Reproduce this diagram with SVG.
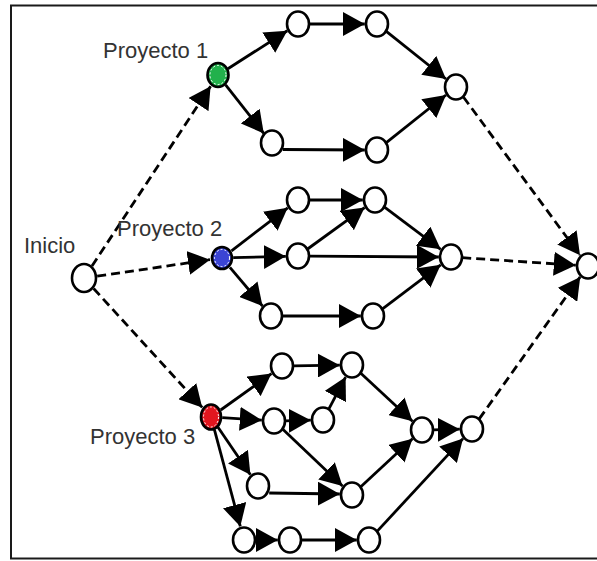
<svg xmlns="http://www.w3.org/2000/svg" width="597" height="561" viewBox="0 0 597 561">
  <style>
    .frame { fill: #ffffff; stroke: #1a1a1a; stroke-width: 2; }
    .node { fill: #ffffff; stroke: #000000; stroke-width: 2.6; }
    .ring { fill: none; stroke: #ffffff; stroke-width: 1; stroke-dasharray: 2 2; }
    .edge { fill: none; stroke: #000000; stroke-width: 2.8; marker-end: url(#arrow); }
    .dash { fill: none; stroke: #000000; stroke-width: 2.8; stroke-dasharray: 9 5; marker-end: url(#arrow); }
    .label { font-family: "Liberation Sans", Arial, sans-serif; font-size: 22px; fill: #333333; }
  </style>
  <defs>
    <marker id="arrow" markerUnits="userSpaceOnUse" markerWidth="22" markerHeight="24" refX="22" refY="12" orient="auto" viewBox="0 0 22 24">
      <path d="M0,0 L22,12 L0,24 Z" fill="#000000"/>
    </marker>
  </defs>

  <!-- outer frame -->
  <rect class="frame" x="11" y="5.5" width="600" height="553"/>

  <!-- connectors -->
  <g id="connectors">
    <!-- from start to the three projects -->
    <line class="dash" x1="92" y1="266" x2="210.6" y2="86.2"/>
    <line class="dash" x1="97.2" y1="276.1" x2="210" y2="259.7"/>
    <line class="dash" x1="93.6" y1="288.5" x2="202.2" y2="407.4"/>

    <!-- project 1 -->
    <line class="edge" x1="227.9" y1="68.7" x2="287.3" y2="30.8"/>
    <line class="edge" x1="225.6" y1="84.8" x2="263.8" y2="133.4"/>
    <line class="edge" x1="309.3" y1="24" x2="364.8" y2="24"/>
    <line class="edge" x1="282.8" y1="149.5" x2="364.8" y2="150"/>
    <line class="edge" x1="386.3" y1="31.4" x2="446" y2="79"/>
    <line class="edge" x1="386.3" y1="142.6" x2="446" y2="95"/>
    <line class="dash" x1="463.4" y1="97" x2="580" y2="255.2"/>

    <!-- project 2 -->
    <line class="edge" x1="231.5" y1="250.8" x2="287.7" y2="207.8"/>
    <line class="edge" x1="233.2" y1="257.7" x2="285.8" y2="256.3"/>
    <line class="edge" x1="229.9" y1="267.3" x2="262.5" y2="306"/>
    <line class="edge" x1="309.3" y1="200" x2="362.8" y2="200"/>
    <line class="edge" x1="307.6" y1="249" x2="364.6" y2="207.6"/>
    <line class="edge" x1="309.3" y1="256.1" x2="438.8" y2="257"/>
    <line class="edge" x1="384.5" y1="207.1" x2="440.7" y2="249.3"/>
    <line class="edge" x1="282.3" y1="316" x2="360.8" y2="316"/>
    <line class="edge" x1="382.5" y1="308.8" x2="440.7" y2="264.8"/>
    <line class="dash" x1="462.2" y1="257.7" x2="575.8" y2="265.2"/>

    <!-- project 3 -->
    <line class="edge" x1="220.7" y1="410" x2="271.5" y2="373.6"/>
    <line class="edge" x1="222.2" y1="417.7" x2="261.8" y2="420.2"/>
    <line class="edge" x1="218" y1="427.3" x2="250.4" y2="474.8"/>
    <line class="edge" x1="214.4" y1="429.6" x2="240.3" y2="526.4"/>
    <line class="edge" x1="293.3" y1="365.8" x2="339.8" y2="365.2"/>
    <line class="edge" x1="285.3" y1="420.8" x2="310.8" y2="420.2"/>
    <line class="edge" x1="328.9" y1="408.8" x2="345.6" y2="377.1"/>
    <line class="edge" x1="282.8" y1="429.3" x2="342.5" y2="486"/>
    <line class="edge" x1="269.2" y1="493" x2="339.8" y2="494"/>
    <line class="edge" x1="360.8" y1="373.2" x2="412.5" y2="421.2"/>
    <line class="edge" x1="360.8" y1="486.8" x2="412.5" y2="438.8"/>
    <line class="edge" x1="433.3" y1="429.8" x2="459.8" y2="429.2"/>
    <line class="edge" x1="255.3" y1="540" x2="277.8" y2="540"/>
    <line class="edge" x1="301.3" y1="540" x2="356.8" y2="540"/>
    <line class="edge" x1="377.3" y1="531.1" x2="463" y2="438.6"/>
    <line class="dash" x1="479.2" y1="418.9" x2="580.2" y2="276.9"/>
  </g>

  <!-- start node -->
  <g id="inicio">
    <ellipse class="node" cx="84" cy="278" rx="12" ry="14"/>
    <text class="label" x="24" y="253">Inicio</text>
  </g>

  <!-- project 1 -->
  <g id="proyecto1">
    <ellipse class="node" cx="218" cy="75" rx="10.5" ry="12" style="fill:#22b14c"/>
    <ellipse class="ring" cx="218" cy="75" rx="8" ry="9.5"/>
    <text class="label" x="103" y="58">Proyecto 1</text>
  </g>
  <g id="p1-a"><ellipse class="node" cx="298" cy="24" rx="11" ry="12.5"/></g>
  <g id="p1-b"><ellipse class="node" cx="377" cy="24" rx="11" ry="12.5"/></g>
  <g id="p1-c"><ellipse class="node" cx="272" cy="143" rx="11" ry="12.5"/></g>
  <g id="p1-d"><ellipse class="node" cx="377" cy="150" rx="11" ry="12.5"/></g>
  <g id="p1-fin"><ellipse class="node" cx="456" cy="87" rx="11" ry="12.5"/></g>

  <!-- project 2 -->
  <g id="proyecto2">
    <ellipse class="node" cx="222" cy="258" rx="10" ry="11" style="fill:#3b44d4"/>
    <ellipse class="ring" cx="222" cy="258" rx="7.5" ry="8.5"/>
    <text class="label" x="117" y="236">Proyecto 2</text>
  </g>
  <g id="p2-a"><ellipse class="node" cx="298" cy="200" rx="11" ry="12.5"/></g>
  <g id="p2-b"><ellipse class="node" cx="298" cy="256" rx="11" ry="12.5"/></g>
  <g id="p2-c"><ellipse class="node" cx="271" cy="316" rx="11" ry="12.5"/></g>
  <g id="p2-d"><ellipse class="node" cx="375" cy="200" rx="11" ry="12.5"/></g>
  <g id="p2-e"><ellipse class="node" cx="373" cy="316" rx="11" ry="12.5"/></g>
  <g id="p2-fin"><ellipse class="node" cx="451" cy="257" rx="11" ry="12.5"/></g>

  <!-- project 3 -->
  <g id="proyecto3">
    <ellipse class="node" cx="211" cy="417" rx="10" ry="12.5" style="fill:#e2161f"/>
    <ellipse class="ring" cx="211" cy="417" rx="7.5" ry="10"/>
    <text class="label" x="90" y="444">Proyecto 3</text>
  </g>
  <g id="p3-a"><ellipse class="node" cx="282" cy="366" rx="11" ry="12.5"/></g>
  <g id="p3-b"><ellipse class="node" cx="352" cy="365" rx="11" ry="12.5"/></g>
  <g id="p3-c"><ellipse class="node" cx="274" cy="421" rx="11" ry="12.5"/></g>
  <g id="p3-d"><ellipse class="node" cx="323" cy="420" rx="11" ry="12.5"/></g>
  <g id="p3-e"><ellipse class="node" cx="258" cy="486" rx="11" ry="12.5"/></g>
  <g id="p3-f"><ellipse class="node" cx="352" cy="495" rx="11" ry="12.5"/></g>
  <g id="p3-g"><ellipse class="node" cx="422" cy="430" rx="11" ry="12.5"/></g>
  <g id="p3-h"><ellipse class="node" cx="244" cy="540" rx="11" ry="12.5"/></g>
  <g id="p3-i"><ellipse class="node" cx="290" cy="540" rx="11" ry="12.5"/></g>
  <g id="p3-j"><ellipse class="node" cx="369" cy="540" rx="11" ry="12.5"/></g>
  <g id="p3-fin"><ellipse class="node" cx="472" cy="429" rx="11" ry="12.5"/></g>

  <!-- end node -->
  <g id="fin"><ellipse class="node" cx="588" cy="266" rx="11" ry="12.5"/></g>
</svg>
